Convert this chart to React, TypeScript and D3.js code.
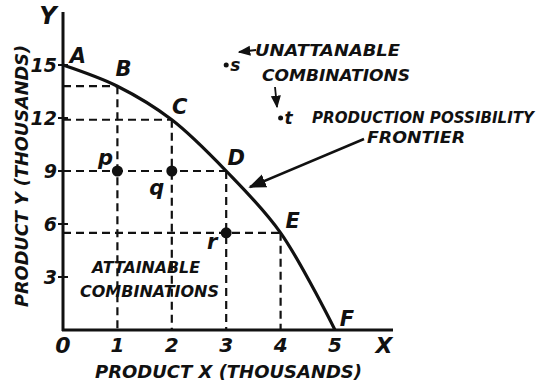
import React from "react";
import * as d3 from "d3";

const frontierLabels = ["A", "B", "C", "D", "E", "F"];
const productX = [0, 1, 2, 3, 4, 5];
const productY = [15, 13.8, 11.9, 9, 5.5, 0];

const attainableLabels = ["p", "q", "r"];
const attainableX = [1, 2, 3];
const attainableY = [9, 9, 5.5];

const unattainableLabels = ["s", "t"];
const unattainableX = [3, 4];
const unattainableY = [15, 12];

const xTicks = [1, 2, 3, 4, 5];
const yTicks = [3, 6, 9, 12, 15];

const W = 537;
const H = 385;
const FONT = "'DejaVu Sans', sans-serif";
const INK = "#111";

export default function App() {
  const x = d3.scaleLinear().domain([0, 5]).range([63, 335]);
  const y = d3.scaleLinear().domain([0, 15]).range([330, 65]);

  const pts = productX.map((v, i) => ({ x: v, y: productY[i], label: frontierLabels[i] }));
  const line = d3
    .line<{ x: number; y: number }>()
    .x((d) => x(d.x))
    .y((d) => y(d.y))
    .curve(d3.curveCatmullRom.alpha(0.5));

  const labelOffsets: Record<string, [number, number]> = {
    A: [15, -2],
    B: [6, -10],
    C: [8, -6],
    D: [10, -6],
    E: [12, -5],
    F: [12, -4],
  };
  const smallOffsets: Record<string, [number, number]> = {
    p: [-12, -6],
    q: [-15, 24],
    r: [-14, 16],
  };

  const txt = {
    fontFamily: FONT,
    fontWeight: "bold" as const,
    fontStyle: "italic" as const,
    fill: INK,
  };

  const dashed = { stroke: INK, strokeWidth: 2.2, strokeDasharray: "8,5", fill: "none" };

  return (
    <svg width={W} height={H} style={{ position: "absolute", left: 0, top: 0, background: "#fff" }}>
      <defs>
        <marker id="ah" viewBox="0 0 10 10" refX="9" refY="5" markerWidth="7" markerHeight="7" orient="auto-start-reverse">
          <path d="M0,1 L10,5 L0,9 z" fill={INK} />
        </marker>
      </defs>
      <rect width={W} height={H} fill="#fff" />

      {/* dashed guides from frontier points B..E */}
      {pts.slice(1, 5).map((p) => (
        <g key={"g" + p.label}>
          <line x1={x(0)} x2={x(p.x)} y1={y(p.y)} y2={y(p.y)} style={dashed} />
          <line x1={x(p.x)} x2={x(p.x)} y1={y(p.y)} y2={y(0)} style={dashed} />
        </g>
      ))}

      {/* axes */}
      <line x1={x(0)} x2={x(0)} y1={y(0) + 1} y2={12} stroke={INK} strokeWidth={3} />
      <line x1={x(0) - 1} x2={393} y1={y(0)} y2={y(0)} stroke={INK} strokeWidth={3} />
      {yTicks.map((t) => (
        <line key={"yt" + t} x1={x(0) - 5} x2={x(0) + 5} y1={y(t)} y2={y(t)} stroke={INK} strokeWidth={2} />
      ))}

      {/* frontier */}
      <path d={line(pts) || ""} fill="none" stroke={INK} strokeWidth={3.2} />

      {/* tick labels */}
      {xTicks.map((t) => (
        <text key={"xl" + t} x={x(t)} y={352} textAnchor="middle" fontSize={20} style={txt}>
          {t}
        </text>
      ))}
      <text x={x(0)} y={353} textAnchor="middle" fontSize={22} style={txt}>0</text>
      {yTicks.map((t) => (
        <text key={"yl" + t} x={57} y={y(t) + 7} textAnchor="end" fontSize={19} style={txt}>
          {t}
        </text>
      ))}

      {/* axis letters */}
      <text x={48} y={24} textAnchor="middle" fontSize={24} style={txt}>Y</text>
      <text x={384} y={353} textAnchor="middle" fontSize={22} style={txt}>X</text>

      {/* axis titles */}
      <text x={95} y={378} fontSize={18} textLength={267} lengthAdjust="spacingAndGlyphs" style={txt}>
        PRODUCT X (THOUSANDS)
      </text>
      <text
        transform="translate(28,176) rotate(-90)"
        textAnchor="middle"
        fontSize={17}
        textLength={262}
        lengthAdjust="spacingAndGlyphs"
        style={txt}
      >
        PRODUCT Y (THOUSANDS)
      </text>

      {/* frontier point labels */}
      {pts.map((p) => (
        <text
          key={"pl" + p.label}
          x={x(p.x) + labelOffsets[p.label][0]}
          y={y(p.y) + labelOffsets[p.label][1]}
          textAnchor="middle"
          fontSize={21}
          style={txt}
        >
          {p.label}
        </text>
      ))}

      {/* attainable points */}
      {attainableX.map((v, i) => (
        <g key={"a" + i}>
          <circle cx={x(v)} cy={y(attainableY[i])} r={5.5} fill={INK} />
          <text
            x={x(v) + smallOffsets[attainableLabels[i]][0]}
            y={y(attainableY[i]) + smallOffsets[attainableLabels[i]][1]}
            textAnchor="middle"
            fontSize={21}
            style={txt}
          >
            {attainableLabels[i]}
          </text>
        </g>
      ))}

      {/* unattainable points */}
      {unattainableX.map((v, i) => (
        <g key={"u" + i}>
          <circle cx={x(v)} cy={y(unattainableY[i])} r={2.5} fill={INK} />
          <text x={x(v) + 4} y={y(unattainableY[i]) + 6} fontSize={17} style={txt}>
            {unattainableLabels[i]}
          </text>
        </g>
      ))}

      {/* annotations */}
      <line x1={256} y1={50} x2={239} y2={52} stroke={INK} strokeWidth={1.8} markerEnd="url(#ah)" />
      <text x={255} y={56} fontSize={15} textLength={145} lengthAdjust="spacingAndGlyphs" style={txt}>
        UNATTANABLE
      </text>
      <text x={262} y={81} fontSize={15} textLength={148} lengthAdjust="spacingAndGlyphs" style={txt}>
        COMBINATIONS
      </text>
      <line x1={275} y1={87} x2={277} y2={107} stroke={INK} strokeWidth={1.8} markerEnd="url(#ah)" />

      <text x={312} y={123} fontSize={15} textLength={222} lengthAdjust="spacingAndGlyphs" style={txt}>
        PRODUCTION POSSIBILITY
      </text>
      <text x={367} y={143} fontSize={15} textLength={98} lengthAdjust="spacingAndGlyphs" style={txt}>
        FRONTIER
      </text>
      <line x1={364} y1={139} x2={250} y2={187} stroke={INK} strokeWidth={2.5} markerEnd="url(#ah)" />

      <text x={92} y={273} fontSize={15} textLength={108} lengthAdjust="spacingAndGlyphs" style={txt}>
        ATTAINABLE
      </text>
      <text x={80} y={297} fontSize={15} textLength={139} lengthAdjust="spacingAndGlyphs" style={txt}>
        COMBINATIONS
      </text>
    </svg>
  );
}
